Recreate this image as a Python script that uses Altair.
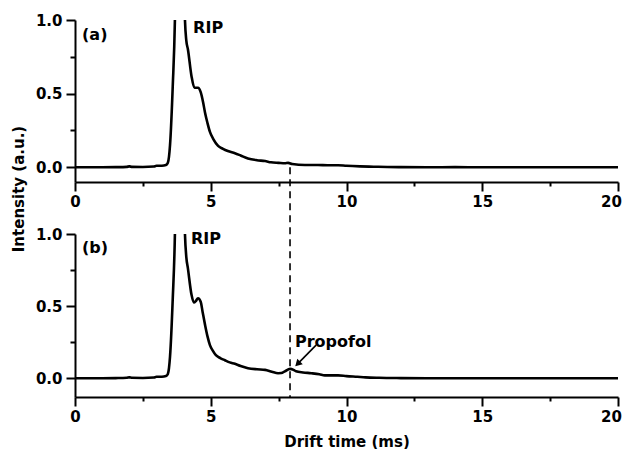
import altair as alt
import pandas as pd

# ---- data ----
drift_a = [0.0, 0.5, 1.0, 1.5, 1.9, 2.0, 2.1, 2.5, 2.9, 3.0, 3.2, 3.35, 3.42, 3.5, 3.6, 3.68, 3.85,
           4.05, 4.1, 4.16, 4.29, 4.4, 4.53, 4.63, 4.72, 4.79, 4.88, 4.97, 5.1, 5.27, 5.45, 5.63, 5.89,
           6.1, 6.37, 6.7, 7.0, 7.22, 7.5, 7.73, 7.85, 8.0, 8.47, 8.95, 9.3, 9.69, 10.0, 10.5, 11.0,
           11.5, 12.0, 13.0, 14.0, 15.0, 16.0, 17.0, 18.0, 19.0, 20.0]
inten_a = [0.0, 0.0, 0.0, 0.001, 0.003, 0.006, 0.003, 0.002, 0.005, 0.01, 0.01, 0.015, 0.03, 0.15, 0.55, 1.0, 4.0,
           1.0, 0.86, 0.80, 0.62, 0.54, 0.54, 0.51, 0.44, 0.37, 0.30, 0.24, 0.19, 0.145, 0.125, 0.11, 0.095,
           0.08, 0.06, 0.048, 0.042, 0.034, 0.03, 0.027, 0.03, 0.022, 0.015, 0.015, 0.014, 0.014, 0.01, 0.006, 0.004,
           0.002, 0.001, 0.0, 0.001, 0.0, 0.0, 0.0, 0.0, 0.0, 0.0]

drift_b = [0.0, 0.5, 1.0, 1.5, 1.9, 2.0, 2.1, 2.5, 2.9, 3.0, 3.2, 3.35, 3.42, 3.5, 3.6, 3.68, 3.85,
           4.05, 4.1, 4.16, 4.29, 4.38, 4.45, 4.53, 4.63, 4.7, 4.79, 4.88, 4.97, 5.08, 5.19, 5.35, 5.52, 5.7,
           5.89, 6.1, 6.37, 6.7, 7.0, 7.25, 7.48, 7.6, 7.73, 7.92, 8.05, 8.14, 8.4, 8.7, 9.0, 9.2, 9.69,
           10.0, 10.4, 10.7, 11.2, 12.0, 13.0, 14.0, 15.0, 16.0, 17.0, 18.0, 19.0, 20.0]
inten_b = [0.0, 0.0, 0.0, 0.001, 0.003, 0.006, 0.003, 0.002, 0.005, 0.01, 0.01, 0.015, 0.03, 0.15, 0.55, 1.0, 4.0,
           1.0, 0.84, 0.76, 0.58, 0.525, 0.535, 0.555, 0.53, 0.46, 0.37, 0.29, 0.23, 0.19, 0.16, 0.14, 0.125, 0.11,
           0.10, 0.085, 0.07, 0.062, 0.058, 0.045, 0.035, 0.036, 0.048, 0.065, 0.058, 0.048, 0.04, 0.035, 0.028, 0.02, 0.02,
           0.015, 0.01, 0.006, 0.003, 0.001, 0.0, 0.0, 0.0, 0.0, 0.0, 0.0, 0.0, 0.0]

x_ticks = [0, 2.5, 5, 7.5, 10, 12.5, 15, 17.5, 20]
y_ticks = [0, 0.25, 0.5, 0.75, 1.0]
marker_time = 7.92

labels_a = pd.DataFrame({"x": [0.26, 4.35], "y": [0.90, 0.945], "t": ["(a)", "RIP"]})
labels_b = pd.DataFrame({"x": [0.26, 4.27, 8.1], "y": [0.905, 0.965, 0.25], "t": ["(b)", "RIP", "Propofol"]})
arrow = pd.DataFrame({"x": [8.88], "y": [0.23], "x2": [8.20], "y2": [0.10]})

df_a = pd.DataFrame({"x": drift_a, "y": inten_a})
df_b = pd.DataFrame({"x": drift_b, "y": inten_b})

FONT = "DejaVu Sans"
W = 543


def xaxis(show_title):
    kw = dict(values=x_ticks, labelExpr="datum.value % 5 === 0 ? datum.label : ''",
              tickSize={"condition": {"test": "datum.value % 5 === 0", "value": 9}, "value": 4},
              labelOffset={"condition": {"test": "datum.value === 20", "value": -7}, "value": 0},
              labelFlush=False, labelOverlap=False, grid=False, labelPadding=3,
              domainWidth=2, tickWidth=2, domainColor="black", tickColor="black",
              labelFont=FONT, labelFontSize=15, labelFontWeight="bold", labelColor="black")
    if show_title:
        kw.update(title="Drift time (ms)", titleFont=FONT, titleFontSize=15, titleFontWeight="bold",
                  titleColor="black", titlePadding=10)
    else:
        kw.update(title=None)
    return alt.Axis(**kw)


def yaxis():
    return alt.Axis(values=y_ticks, format=".1f", title=None,
                    labelExpr="datum.value % 0.5 === 0 ? datum.label : ''",
                    tickSize={"condition": {"test": "datum.value % 0.5 === 0", "value": 9}, "value": 5},
                    grid=False, labelPadding=4, labelOverlap=False,
                    domainWidth=2, tickWidth=2, domainColor="black", tickColor="black",
                    labelFont=FONT, labelFontSize=15, labelFontWeight="bold", labelColor="black")


def panel(df, labels, ydom, show_xtitle):
    xs = alt.Scale(domain=[0, 20], nice=False, zero=False)
    ys = alt.Scale(domain=ydom, nice=False, zero=False)
    line = alt.Chart(df).mark_line(color="black", strokeWidth=2.6, clip=True, interpolate="monotone").encode(
        x=alt.X("x:Q", scale=xs, axis=xaxis(show_xtitle)),
        y=alt.Y("y:Q", scale=ys, axis=yaxis()),
    )
    txt = alt.Chart(labels).mark_text(align="left", baseline="middle", font=FONT, fontSize=16,
                                      fontWeight="bold", color="black").encode(
        x=alt.X("x:Q", scale=xs), y=alt.Y("y:Q", scale=ys), text="t:N")
    return line, txt, xs, ys


line_a, txt_a, xs_a, ys_a = panel(df_a, labels_a, [-0.1, 1.0], False)
line_b, txt_b, xs_b, ys_b = panel(df_b, labels_b, [-0.13, 1.0], True)

H_TOP, H_BOT, GAP = 162, 163, 52

dash = alt.Chart(pd.DataFrame({"x": [marker_time], "y": [0.0]})).mark_rule(
    color="black", strokeWidth=1.6, strokeDash=[7, 5]).encode(
    x=alt.X("x:Q", scale=xs_a), y=alt.Y("y:Q", scale=ys_a), y2=alt.value(H_TOP + GAP + H_BOT))

ytitle = alt.Chart(pd.DataFrame({"t": ["Intensity (a.u.)"]})).mark_text(
    angle=270, align="center", baseline="middle", font=FONT, fontSize=15, fontWeight="bold",
    color="black").encode(x=alt.value(-56), y=alt.value(169), text="t:N")

arrow_line = alt.Chart(arrow).mark_rule(color="black", strokeWidth=1.6).encode(
    x=alt.X("x:Q", scale=xs_b), y=alt.Y("y:Q", scale=ys_b), x2="x2:Q", y2="y2:Q")
arrow_head = alt.Chart(arrow).mark_point(shape="triangle-up", filled=True, color="black", opacity=1,
                                         size=60, angle=225).encode(
    x=alt.X("x2:Q", scale=xs_b), y=alt.Y("y2:Q", scale=ys_b))

top = alt.layer(line_a, txt_a, dash, ytitle).properties(width=W, height=H_TOP)
bottom = alt.layer(line_b, txt_b, arrow_line, arrow_head).properties(width=W, height=H_BOT)

chart = alt.vconcat(top, bottom, spacing=GAP, bounds="flush").properties(
    padding={"left": 4, "top": 5, "right": 0, "bottom": 0}
).configure(background="white", view=alt.ViewConfig(stroke=None))

chart.save("out.html", embed_options={"renderer": "svg", "actions": False})
